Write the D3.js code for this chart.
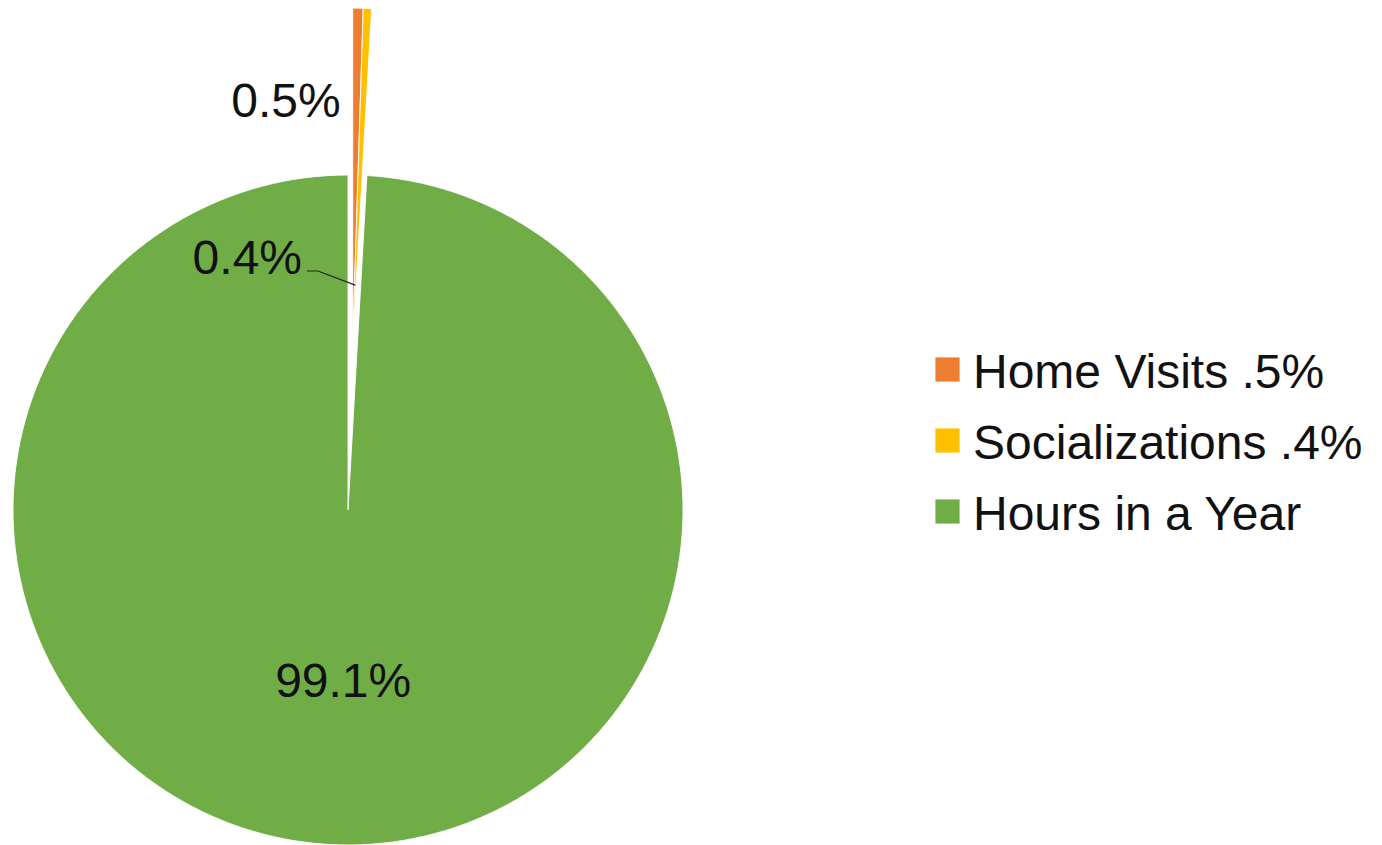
<!DOCTYPE html>
<html>
<head>
<meta charset="utf-8">
<script src="https://cdn.jsdelivr.net/npm/d3@7"></script>
<style>
  html, body { margin: 0; padding: 0; background: #ffffff; }
  svg { display: block; }
</style>
</head>
<body>
<svg id="chart" width="1382" height="845"></svg>
<script>
// ---- Data ----
const categories = ["Home Visits", "Socializations", "Hours in a Year"];
const legendLabels = ["Home Visits .5%", "Socializations .4%", "Hours in a Year"];
const values = [0.5, 0.4, 99.1];
const valueLabels = ["0.5%", "0.4%", "99.1%"];
const exploded = [true, true, false];
const colors = ["#ED7D31", "#FFC000", "#70AD47"];

// ---- Layout ----
const W = 1382, H = 845;
const cx = 348, cy = 510, R = 335;
const explodeDist = 167;
const fontFam = "'Liberation Sans', Arial, sans-serif";

const svg = d3.select("#chart");
svg.append("rect").attr("width", W).attr("height", H).attr("fill", "#ffffff");

const data = categories.map((c, i) => ({ name: c, value: values[i], label: valueLabels[i], exploded: exploded[i], color: colors[i] }));

const pie = d3.pie().sort(null).value(d => d.value);
const arcs = pie(data);
const arc = d3.arc().innerRadius(0).outerRadius(R);

const g = svg.append("g").attr("transform", `translate(${cx},${cy})`);

// exploded group moves outward together along its common mid-angle
const expArcs = arcs.filter(a => a.data.exploded);
const expMid = (d3.min(expArcs, a => a.startAngle) + d3.max(expArcs, a => a.endAngle)) / 2;
function offset(a) {
  if (!a.data.exploded) return [0, 0];
  return [Math.sin(expMid) * explodeDist, -Math.cos(expMid) * explodeDist];
}

g.selectAll("path.slice")
  .data(arcs)
  .join("path")
  .attr("class", "slice")
  .attr("d", arc)
  .attr("transform", d => { const o = offset(d); return `translate(${o[0]},${o[1]})`; })
  .attr("fill", d => d.data.color)
  .attr("stroke", "#ffffff")
  .attr("stroke-width", 0.9)
  .attr("stroke-linejoin", "round");

// ---- Data labels ----
const labelArc = d3.arc().innerRadius(R).outerRadius(R);
// Large slice label (inside)
const big = arcs[2];
const bigArc = d3.arc().innerRadius(R * 0.51).outerRadius(R * 0.51);
const bc = bigArc.centroid(big);
g.append("text")
  .attr("x", bc[0]).attr("y", bc[1])
  .attr("text-anchor", "middle")
  .attr("dominant-baseline", "central")
  .attr("font-family", fontFam)
  .attr("font-size", 48)
  .attr("fill", "#111")
  .text(big.data.label);

// Home Visits label: left of its exploded slice near the top
const a0 = arcs[0];
const o0 = offset(a0);
const p0 = labelArc.centroid(a0);
g.append("text")
  .attr("x", o0[0] - 12)
  .attr("y", p0[1] + o0[1] + 109)
  .attr("text-anchor", "end")
  .attr("font-family", fontFam)
  .attr("font-size", 48)
  .attr("fill", "#111")
  .text(a0.data.label);

// Socializations label with leader line
const a1 = arcs[1];
const o1 = offset(a1);
const m1 = (a1.startAngle + a1.endAngle) / 2;
const tip = [o1[0] + Math.sin(m1) * 58, o1[1] - Math.cos(m1) * 58];
const lx = -46, ly = -236;
g.append("text")
  .attr("x", lx)
  .attr("y", ly)
  .attr("text-anchor", "end")
  .attr("font-family", fontFam)
  .attr("font-size", 48)
  .attr("fill", "#111")
  .text(a1.data.label);
g.append("path")
  .attr("d", d3.line()([[lx + 5, ly - 3], [lx + 16, ly - 3], tip]))
  .attr("fill", "none")
  .attr("stroke", "#222")
  .attr("stroke-width", 1.2);

// ---- Legend ----
const legend = svg.append("g").attr("transform", "translate(935,357)");
const rowH = 71;
const items = legend.selectAll("g").data(data).join("g")
  .attr("transform", (d, i) => `translate(0,${i * rowH})`);
items.append("rect")
  .attr("width", 25).attr("height", 25)
  .attr("fill", d => d.color)
  .attr("stroke", "#ffffff").attr("stroke-width", 0.8);
items.append("text")
  .attr("x", 38).attr("y", 31)
  .attr("font-family", fontFam)
  .attr("font-size", 48)
  .attr("fill", "#111")
  .text((d, i) => legendLabels[i]);
</script>
</body>
</html>
